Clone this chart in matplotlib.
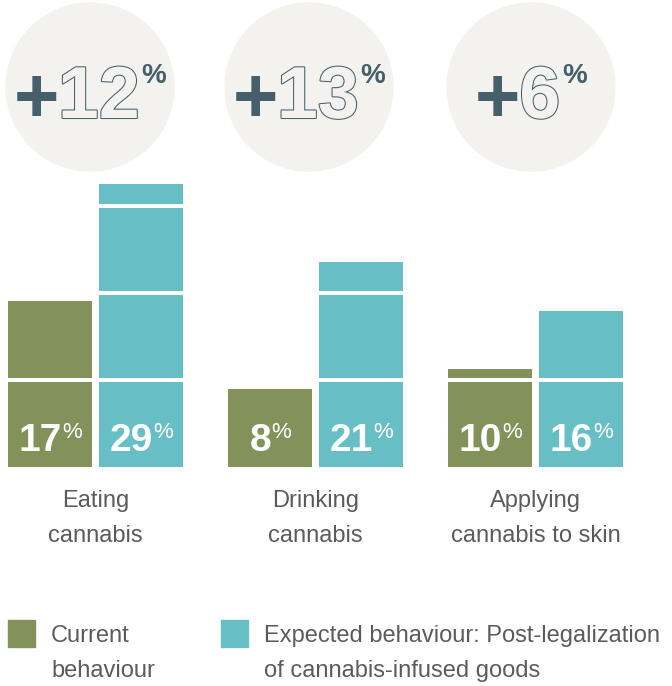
import matplotlib
matplotlib.use("Agg")
import numpy as np
import matplotlib.pyplot as plt
from matplotlib.patches import Circle, Rectangle
from matplotlib import patheffects as pe

# ---- data -------------------------------------------------------------
categories = ["Eating\ncannabis", "Drinking\ncannabis", "Applying\ncannabis to skin"]
current = [17, 8, 10]
expected = [29, 21, 16]
series_labels = ["Current\nbehaviour",
                 "Expected behaviour: Post-legalization\nof cannabis-infused goods"]

# ---- style ------------------------------------------------------------
GREEN = "#83915b"
TEAL = "#67bfc5"
DISC = "#f3f2ee"
SLATE = "#455f6b"
GREY = "#5b5b5b"

plt.rcParams["font.family"] = ["Liberation Sans", "DejaVu Sans"]

W, H = 672, 686
fig = plt.figure(figsize=(W / 100, H / 100), dpi=100)

# bar axes: baseline 467 px from top, 30 % units tall
ax = fig.add_axes([0, 1 - 467 / H, 1, 293 / H])
ax.set_ylim(0, 30)
ax.set_xlim(-95.5 / 220, (W - 95.5) / 220)
ax.axis("off")

# overlay in pixel units (y grows downward) for discs, labels and key
ov = fig.add_axes([0, 0, 1, 1])
ov.set_xlim(0, W)
ov.set_ylim(H, 0)
ov.axis("off")
ov.set_zorder(ax.get_zorder() + 1)

x = np.arange(len(categories))
off = 45.5 / 220
bw = 84 / 220
ax.bar(x - off, current, bw, color=GREEN, zorder=1)
ax.bar(x + off, expected, bw, color=TEAL, zorder=1)
for lvl in (8.9, 17.8, 26.7):
    ax.axhline(lvl, color="white", lw=4 * 0.72, zorder=2)

renderer = fig.canvas.get_renderer()


def compose(parts, cx, base_y):
    """Lay out a run of differently styled texts side by side, centred on cx."""
    texts = []
    for p in parts:
        t = ov.text(0, base_y + p.get("dy", 0), p["s"], ha="left", va="baseline",
                    fontsize=p["size"], fontweight=p.get("weight", "normal"),
                    color=p["color"], path_effects=p.get("fx"), zorder=5)
        texts.append(t)
    widths = [t.get_window_extent(renderer).width for t in texts]
    gaps = [p.get("gap", 0) for p in parts]
    pos = cx - (sum(widths) + sum(gaps)) / 2
    for t, w, g in zip(texts, widths, gaps):
        pos += g
        t.set_x(pos)
        pos += w


def px_x(xd):
    return ax.transData.transform((xd, 0))[0]


# ---- difference discs -------------------------------------------------
disc_x = [90, 309, 531]
outline = [pe.Stroke(linewidth=1.5, foreground=SLATE), pe.Normal()]
for cx, c, e in zip(disc_x, current, expected):
    ov.add_patch(Circle((cx, 87), 84, color=DISC, zorder=3))
    compose([
        dict(s="+", size=56, weight="bold", color=SLATE, dy=4),
        dict(s=f"{e - c}", size=53, weight="bold", color=DISC, fx=outline, gap=-1),
        dict(s="%", size=20, weight="bold", color=SLATE, dy=-35, gap=2),
    ], cx, 118)

# ---- value labels inside bars ------------------------------------------
for xi, c, e in zip(x, current, expected):
    for xb, v in ((xi - off, c), (xi + off, e)):
        compose([
            dict(s=f"{v}", size=28, weight="bold", color="white"),
            dict(s="%", size=16, color="white", dy=-13, gap=0),
        ], px_x(xb), 451)

# ---- category captions --------------------------------------------------
for xi, cat in zip(x, categories):
    for k, line in enumerate(cat.split("\n")):
        ov.text(px_x(xi), 507 + 35 * k, line, ha="center", va="baseline",
                fontsize=17, color=GREY)

# ---- key ----------------------------------------------------------------
for (sx, tx), col, lab in zip(((8, 51), (221, 264)), (GREEN, TEAL), series_labels):
    ov.add_patch(Rectangle((sx, 620), 27, 27, color=col))
    for k, line in enumerate(lab.split("\n")):
        ov.text(tx, 642 + 35 * k, line, ha="left", va="baseline",
                fontsize=17, color=GREY)

fig.savefig("out.png", dpi=100, facecolor="white")
